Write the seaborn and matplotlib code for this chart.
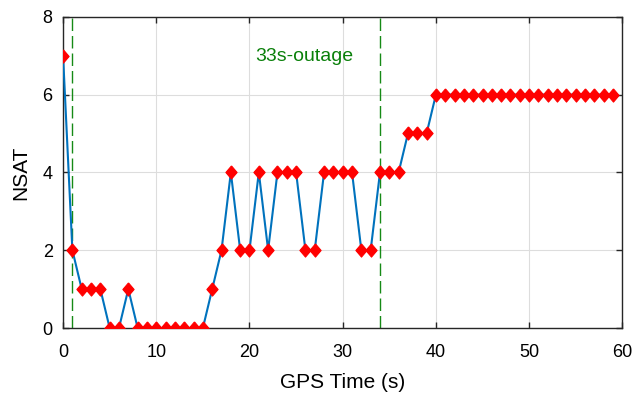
import matplotlib
matplotlib.use("Agg")
import matplotlib.pyplot as plt
import seaborn as sns
import pandas as pd

time_s = list(range(60))
nsat = [7, 2, 1, 1, 1, 0, 0, 1, 0, 0,
        0, 0, 0, 0, 0, 0, 1, 2, 4, 2,
        2, 4, 2, 4, 4, 4, 2, 2, 4, 4,
        4, 4, 2, 2, 4, 4, 4, 5, 5, 5,
        6, 6, 6, 6, 6, 6, 6, 6, 6, 6,
        6, 6, 6, 6, 6, 6, 6, 6, 6, 6]
outage_bounds = [1, 34]
outage_label = "33s-outage"
x_ticks = [0, 10, 20, 30, 40, 50, 60]
y_ticks = [0, 2, 4, 6, 8]

sns.set_theme(style="whitegrid")
plt.rcParams['font.family'] = ['Liberation Sans', 'DejaVu Sans']

df = pd.DataFrame({"t": time_s, "n": nsat})

fig = plt.figure(figsize=(6.37, 3.94), dpi=100)
ax = fig.add_axes([0.099, 0.1675, 0.878, 0.79])

tall_diamond = [(0, 1), (0.85, 0), (0, -1), (-0.85, 0), (0, 1)]
sns.lineplot(data=df, x="t", y="n", ax=ax, color="#0072BD", linewidth=1.5,
             marker=tall_diamond, markersize=9.5, markerfacecolor="#FF0000",
             markeredgecolor="#FF0000", markeredgewidth=0.8, zorder=3)

for xb in outage_bounds:
    ax.axvline(xb, color="#168a16", linestyle=(0, (9, 3.6)), linewidth=1.0, zorder=2)

ax.text(25.9, 6.98, outage_label, color="#0a800a", fontsize=14, ha="center", va="center")

ax.set_xlim(0, 60)
ax.set_ylim(0, 8)
ax.set_xticks(x_ticks)
ax.set_yticks(y_ticks)
ax.set_xlabel("GPS Time (s)", fontsize=15, color="black", labelpad=9)
ax.set_ylabel("NSAT", fontsize=15, color="black", labelpad=9)
ax.set_facecolor("white")
ax.grid(True, color="#dddddd", linewidth=0.8)
for s in ax.spines.values():
    s.set_visible(True)
    s.set_color("#262626")
    s.set_linewidth(1.0)
ax.tick_params(axis="both", direction="in", length=4, width=1.0, colors="#262626",
               labelsize=13, labelcolor="black", top=True, right=True, bottom=True, left=True)
ax.tick_params(axis="x", pad=11.5)
ax.tick_params(axis="y", pad=7.5)
for lab in ax.get_xticklabels() + ax.get_yticklabels():
    lab.set_color("black")

fig.savefig("out.png", dpi=100)
